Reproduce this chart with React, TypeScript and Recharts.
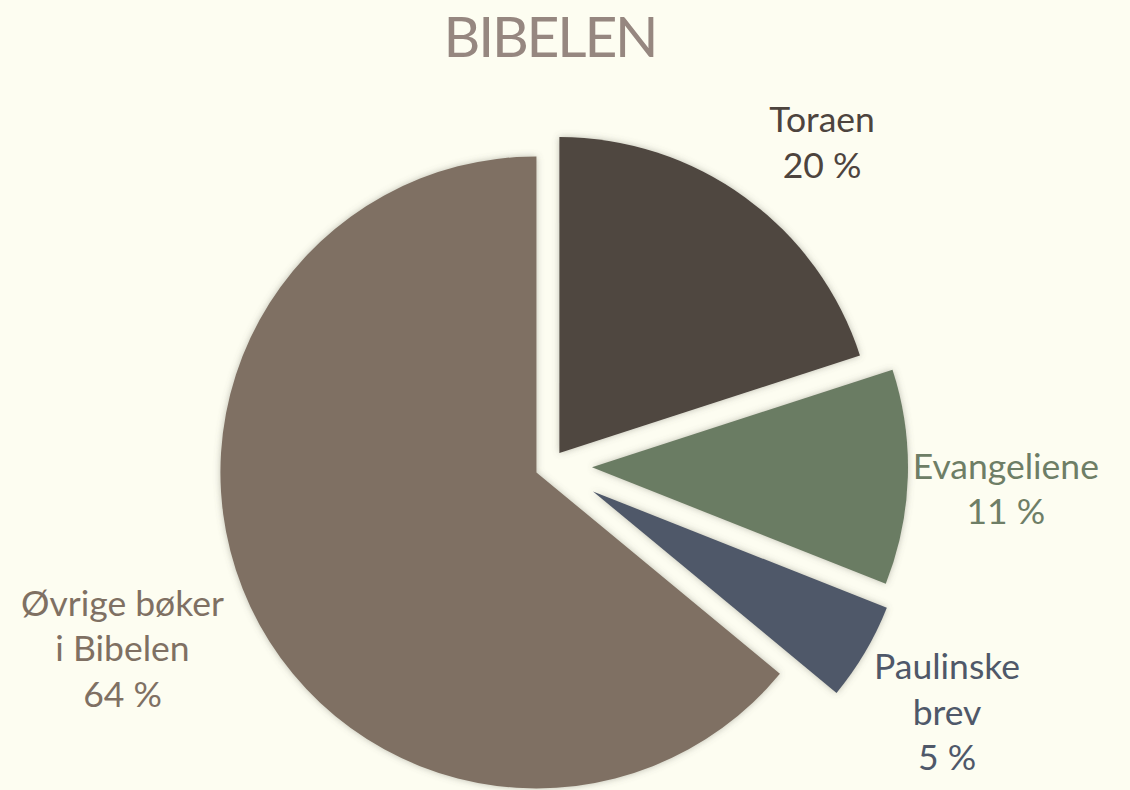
import React from "react";
import { PieChart, Pie, Cell } from "recharts";

const categories = ["Toraen", "Evangeliene", "Paulinske brev", "Øvrige bøker i Bibelen"];
const labelLines = [["Toraen"], ["Evangeliene"], ["Paulinske", "brev"], ["Øvrige bøker", "i Bibelen"]];
const shares = [20, 11, 5, 64];

const sliceColors = ["#4f4640", "#6b7b63", "#4f5869", "#7f7063"];
const textColors = ["#4d443e", "#6e7e66", "#4f5869", "#7f7063"];
const explode = [16, 42, 50, 15];
const labelNudge: [number, number][] = [[77, -56], [98, 11], [82, 59], [-128, 41]];

const data = categories.map((name, i) => ({ name, value: shares[i] }));
const total = shares.reduce((a, b) => a + b, 0);
const START = 90;
const RAD = Math.PI / 180;

const midAngles = shares.map((v, i) => {
  const before = shares.slice(0, i).reduce((a, b) => a + b, 0);
  return START - (360 * (before + v / 2)) / total;
});

const FONT = "Lato, 'Open Sans', sans-serif";

const renderLabel = (props: any) => {
  const { cx, cy, outerRadius, index } = props;
  const mid = typeof props.midAngle === "number" ? props.midAngle : midAngles[index];
  const r = outerRadius + explode[index];
  const ax = cx + r * Math.cos(mid * RAD) + labelNudge[index][0];
  const ay = cy - r * Math.sin(mid * RAD) + labelNudge[index][1];
  const lines = [...labelLines[index], `${Math.round((shares[index] / total) * 100)} %`];
  const lh = 45.5;
  const y0 = ay - ((lines.length - 1) * lh) / 2;
  return (
    <g key={`lbl-${index}`}>
      {lines.map((t, k) => (
        <text
          key={k}
          x={ax}
          y={y0 + k * lh}
          textAnchor="middle"
          dominantBaseline="central"
          fill={textColors[index]}
          fontFamily={FONT}
          fontSize={35.5}
        >
          {t}
        </text>
      ))}
    </g>
  );
};

export default function App() {
  return (
    <div style={{ position: "absolute", left: 0, top: 0, width: 1130, height: 790, background: "#fdfdf1", overflow: "hidden" }}>
      <svg width={0} height={0} style={{ position: "absolute" }}>
        <defs>
          <filter id="glow" x="-20%" y="-20%" width="140%" height="140%">
            <feDropShadow dx={0} dy={0} stdDeviation={3.5} floodColor="#6f6f60" floodOpacity={0.45} />
          </filter>
        </defs>
      </svg>
      <PieChart width={1130} height={790} margin={{ top: 0, right: 0, bottom: 0, left: 0 }}>
        <Pie
          data={data}
          dataKey="value"
          nameKey="name"
          cx={550}
          cy={466}
          outerRadius={316}
          innerRadius={0}
          startAngle={START}
          endAngle={START - 360}
          stroke="none"
          label={renderLabel}
          labelLine={false}
          isAnimationActive={false}
        >
          {data.map((d, i) => {
            const dx = explode[i] * Math.cos(midAngles[i] * RAD);
            const dy = -explode[i] * Math.sin(midAngles[i] * RAD);
            return (
              <Cell
                key={d.name}
                fill={sliceColors[i]}
                transform={`translate(${dx.toFixed(2)},${dy.toFixed(2)})`}
                filter="url(#glow)"
              />
            );
          })}
        </Pie>
      </PieChart>
      <div
        style={{
          position: "absolute",
          left: 0,
          top: 1,
          width: 1100,
          textAlign: "center",
          fontFamily: FONT,
          fontSize: 57,
          lineHeight: "normal",
          letterSpacing: -2.2,
          color: "#968780",
          whiteSpace: "nowrap",
        }}
      >
        BIBELEN
      </div>
    </div>
  );
}
